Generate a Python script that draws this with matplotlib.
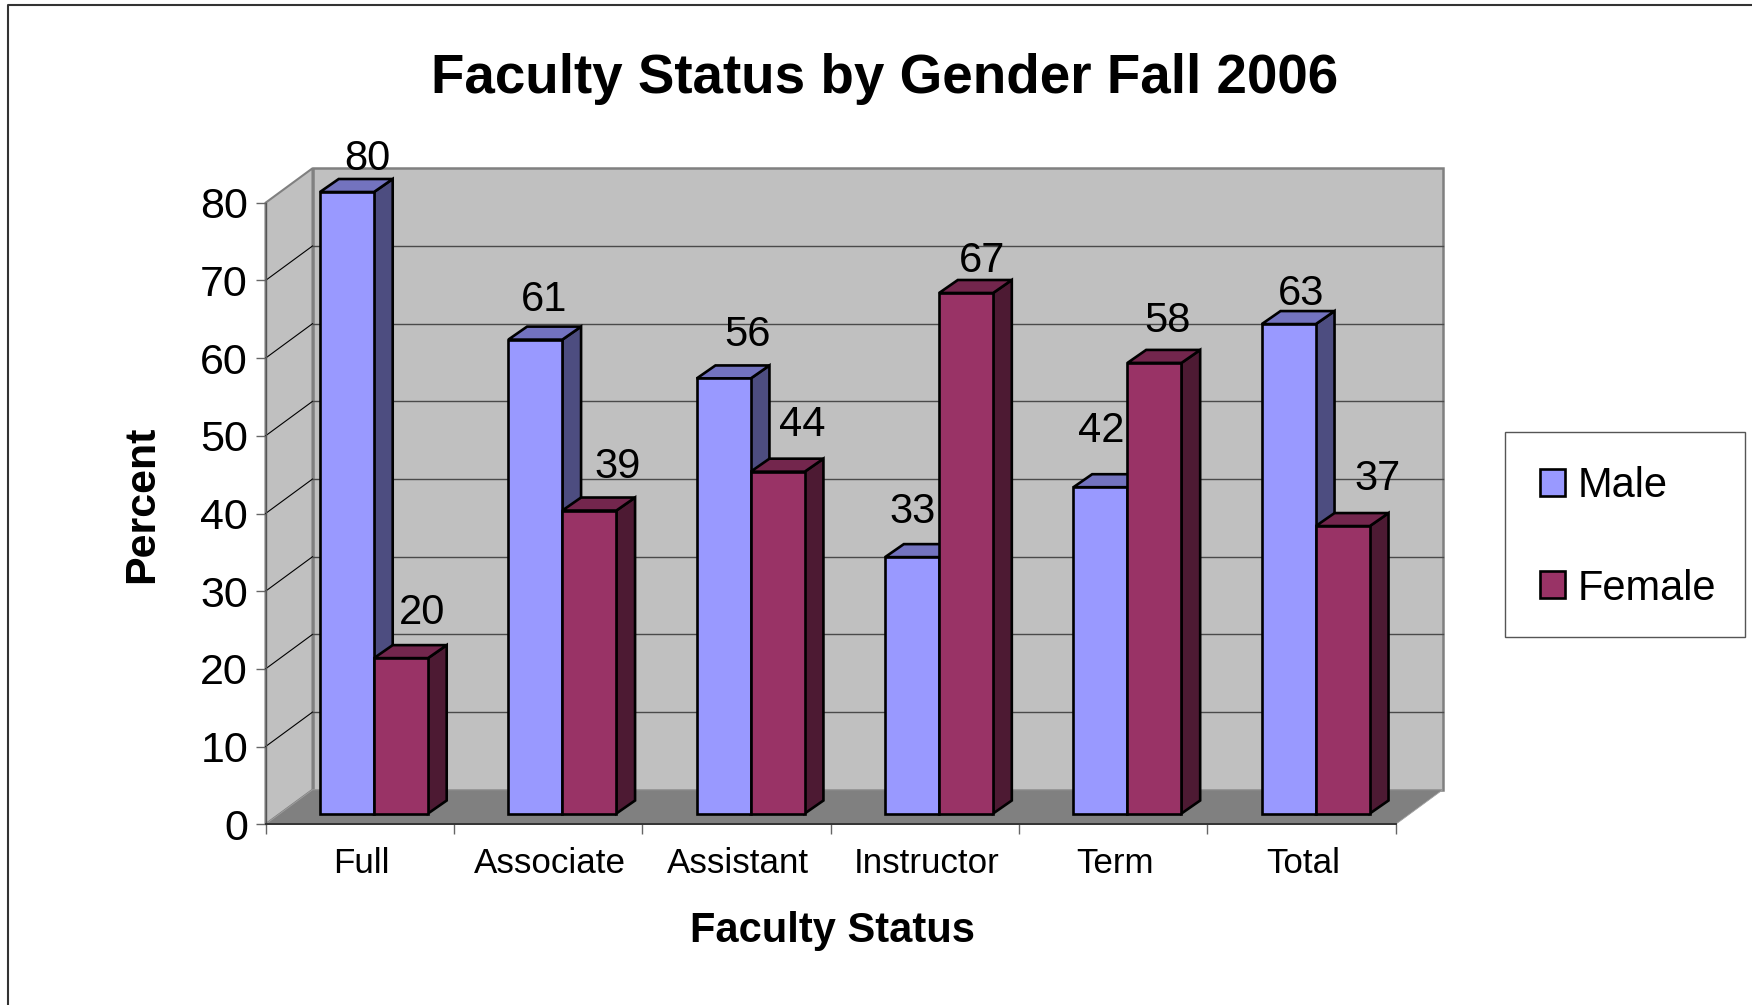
import matplotlib
matplotlib.use("Agg")
import matplotlib.pyplot as plt
from matplotlib.lines import Line2D
from matplotlib.patches import Polygon, Patch, Rectangle

plt.rcParams["font.family"] = ["Liberation Sans", "DejaVu Sans"]

# chart values
categories = ["Full", "Associate", "Assistant", "Instructor", "Term", "Total"]
male = [80, 61, 56, 33, 42, 63]
female = [20, 39, 44, 67, 58, 37]
y_ticks = [0, 10, 20, 30, 40, 50, 60, 70, 80]

# hand placed value labels, offset in pixels from the top of each bar
male_label_off = [(20, 33), (9, 40), (24, 43), (0, 45), (1, 56), (12, 30)]
female_label_off = [(21, 45), (28, 44), (25, 47), (16, 32), (13, 42), (35, 47)]

W, H = 1752, 1005
fig = plt.figure(figsize=(W / 100, H / 100), dpi=100)
fig.patch.set_facecolor("white")

# front plane of the box, in pixels
left, right, y0_px, y80_px = 265.5, 1395.7, 824.3, 202.8
ax = fig.add_axes([left / W, 1 - y0_px / H, (right - left) / W, (y0_px - y80_px) / H])
ax.set_xlim(0, 6)
ax.set_ylim(0, 80)
ax.patch.set_visible(False)

px_x = 6 / (right - left)
px_y = 80 / (y0_px - y80_px)

# depth of the box and of the bars
wall_dx, wall_dy = 47 * px_x, 34.5 * px_y
bar_dx, bar_dy = 18.7 * px_x, 13 * px_y
bar_base = 10.8 * px_y
bar_start = 54.5 * px_x
bar_w = 54 * px_x


def poly(points, fc, ec="none", lw=0.0, z=1):
    ax.add_patch(Polygon(points, closed=True, facecolor=fc, edgecolor=ec, linewidth=lw,
                         joinstyle="miter", clip_on=False, zorder=z))


# walls and floor
top = y_ticks[-1]
poly([(0, 0), (wall_dx, wall_dy), (wall_dx, top + wall_dy), (0, top)], "#C0C0C0", "#808080", 1.5)
poly([(wall_dx, wall_dy), (6 + wall_dx, wall_dy), (6 + wall_dx, top + wall_dy), (wall_dx, top + wall_dy)],
     "#C0C0C0", "#808080", 1.8)
poly([(0, 0), (6, 0), (6 + wall_dx, wall_dy), (wall_dx, wall_dy)], "#808080", "#A0A0A0", 0.6, z=1.1)

# gridlines run along the side wall and the back wall
for t in y_ticks[1:-1]:
    ax.plot([0, wall_dx], [t, t + wall_dy], color="black", lw=0.8, clip_on=False, zorder=1.2)
    ax.plot([wall_dx, 6 + wall_dx], [t + wall_dy, t + wall_dy], color="#4A4A4A", lw=1.0, clip_on=False, zorder=1.2)


def bar3d(x, v, front, top_c, side_c, z):
    y = bar_base + v
    poly([(x + bar_w, bar_base), (x + bar_w + bar_dx, bar_base + bar_dy), (x + bar_w + bar_dx, y + bar_dy), (x + bar_w, y)],
         side_c, "black", 1.9, z)
    poly([(x, y), (x + bar_dx, y + bar_dy), (x + bar_w + bar_dx, y + bar_dy), (x + bar_w, y)],
         top_c, "black", 1.9, z)
    poly([(x, bar_base), (x + bar_w, bar_base), (x + bar_w, y), (x, y)], front, "black", 1.9, z)


for i in range(len(categories)):
    x_m = i + bar_start
    x_f = x_m + bar_w
    bar3d(x_m, male[i], "#9999FF", "#7373BF", "#4D4D80", 3 + i * 0.1)
    bar3d(x_f, female[i], "#993366", "#73264D", "#4D1A33", 3.05 + i * 0.1)

for i in range(len(categories)):
    ax.annotate(str(male[i]), xy=(i + bar_start + bar_w / 2, bar_base + male[i]), xytext=male_label_off[i],
                textcoords="offset pixels", ha="center", va="center", fontsize=30, zorder=6, annotation_clip=False)
    ax.annotate(str(female[i]), xy=(i + bar_start + bar_w * 1.5, bar_base + female[i]), xytext=female_label_off[i],
                textcoords="offset pixels", ha="center", va="center", fontsize=30, zorder=6, annotation_clip=False)

# axes
for s in ["top", "right"]:
    ax.spines[s].set_visible(False)
ax.spines["left"].set_color("#555555")
ax.spines["left"].set_linewidth(1.0)
ax.spines["bottom"].set_color("#333333")
ax.spines["bottom"].set_linewidth(1.4)
ax.set_yticks(y_ticks)
ax.tick_params(axis="y", length=7.2, width=1.0, color="#666666", labelsize=31, pad=5.4)
ax.set_xticks(range(len(categories) + 1))
ax.set_xticklabels([])
ax.tick_params(axis="x", which="major", length=7.2, width=1.0, color="#666666")
ax.set_xticks([i + 0.508 for i in range(len(categories))], minor=True)
ax.set_xticklabels(categories, minor=True, fontsize=25.2)
ax.tick_params(axis="x", which="minor", length=0, pad=16.5)

fig.text(885 / W, 1 - 79 / H, "Faculty Status by Gender Fall 2006", fontsize=39.4, fontweight="bold",
         ha="center", va="center")
fig.text(832 / W, 1 - 931 / H, "Faculty Status", fontsize=30, fontweight="bold", ha="center", va="center")
fig.text(142 / W, 1 - 504 / H, "Percent", fontsize=31, fontweight="bold", rotation=90, ha="center", va="center")

# legend, the box is drawn apart because its padding is not even
fig.add_artist(Rectangle((1505 / W, 1 - 637 / H), 240 / W, 205 / H, transform=fig.transFigure,
                         facecolor="white", edgecolor="#555555", linewidth=1.0))
handles = [Patch(facecolor="#9999FF", edgecolor="black", linewidth=1.9, label="Male"),
           Patch(facecolor="#993366", edgecolor="black", linewidth=1.9, label="Female")]
leg = fig.legend(handles=handles, loc="upper left", bbox_to_anchor=(1505 / W, 1 - 431 / H), borderaxespad=0,
                 fontsize=30, frameon=False, handlelength=0.61, handleheight=0.61, handletextpad=0.3,
                 borderpad=0.84, labelspacing=1.5)

# outer frame of the picture, cut off at right and bottom
fig.add_artist(Line2D([8 / W, 8 / W, 1], [0, 1 - 5 / H, 1 - 5 / H], color="#333333", lw=1.5))

fig.savefig("out.png", dpi=100)
